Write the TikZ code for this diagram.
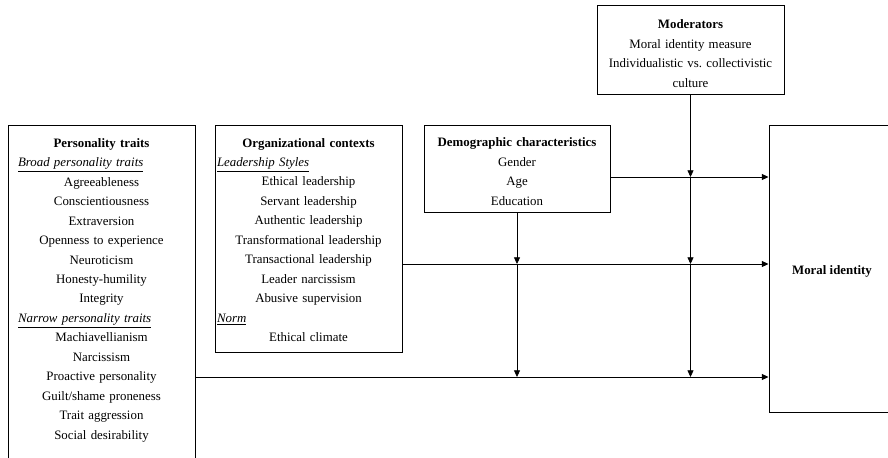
\documentclass[tikz,border=0pt]{standalone}
\usepackage{fontspec}
\setmainfont{Liberation Serif}
\usetikzlibrary{arrows.meta, positioning, calc}

% pushes the text of a box a little down
\newcommand{\topstrut}[1]{\rule{0pt}{#1}}

\begin{document}
\begin{tikzpicture}[x=0.75pt, y=-0.75pt,
    box/.style={rectangle, draw, line width=0.75pt, inner xsep=1.5pt, inner ysep=0pt, align=center, font=\fontsize{9.65}{14.6}\selectfont},
    arrow/.style={-{Triangle[length=5pt,width=4.5pt]}, line width=0.6pt}
]
\useasboundingbox (0,0) rectangle (888,457);

% Boxes
\node[box, text width=137.25pt, minimum height=260.25pt] (traits) at (101.5,298.5) {\textbf{Personality traits}\\
\makebox[\linewidth][l]{\hspace*{6pt}\underline{\textit{Broad personality traits}}}\\
Agreeableness\\ Conscientiousness\\ Extraversion\\ Openness to experience\\ Neuroticism\\ Honesty-humility\\ Integrity\\
\makebox[\linewidth][l]{\hspace*{6pt}\underline{\textit{Narrow personality traits}}}\\
Machiavellianism\\ Narcissism\\ Proactive personality\\ Guilt/shame proneness\\ Trait aggression\\ Social desirability\\ \mbox{}};

\node[box, text width=137.25pt, minimum height=170.25pt] (org) at (308.5,238.5) {\topstrut{8.9pt}\textbf{Organizational contexts}\\
\makebox[\linewidth][l]{\underline{\textit{Leadership Styles}}}\\
Ethical leadership\\ Servant leadership\\ Authentic leadership\\ Transformational leadership\\ Transactional leadership\\ Leader narcissism\\ Abusive supervision\\
\makebox[\linewidth][l]{\underline{\textit{Norm}}}\\
Ethical climate};

\node[box, text width=136.5pt, minimum height=65.25pt] (demo) at (517,168.5) {\topstrut{11.1pt}\textbf{Demographic characteristics}\\ Gender\\ Age\\ Education};

\node[box, text width=137.25pt, minimum height=66.75pt] (mod) at (690.5,49.5) {\topstrut{12.6pt}\textbf{Moderators}\\ Moral identity measure\\ Individualistic vs.\ collectivistic\\ culture};

\node[box, minimum width=94.5pt, minimum height=215.25pt] (moral) at (832,268.5) {\topstrut{11.1pt}\textbf{Moral identity}};

% Rows of the paths
\coordinate (rowA) at (0,177);
\coordinate (rowB) at (0,264);
\coordinate (rowC) at (0,377);

% Direct effects
\draw[arrow] (demo.east |- rowA) -- (moral.west |- rowA);
\draw[arrow] (org.east |- rowB) -- (moral.west |- rowB);
\draw[arrow] (traits.east |- rowC) -- (moral.west |- rowC);

% Moderation
\draw[arrow] (mod.south) -- (mod.south |- rowA);
\draw[arrow] (mod.south |- rowA) -- (mod.south |- rowB);
\draw[arrow] (mod.south |- rowB) -- (mod.south |- rowC);
\draw[arrow] (demo.south) -- (demo.south |- rowB);
\draw[arrow] (demo.south |- rowB) -- (demo.south |- rowC);

\end{tikzpicture}
\end{document}
